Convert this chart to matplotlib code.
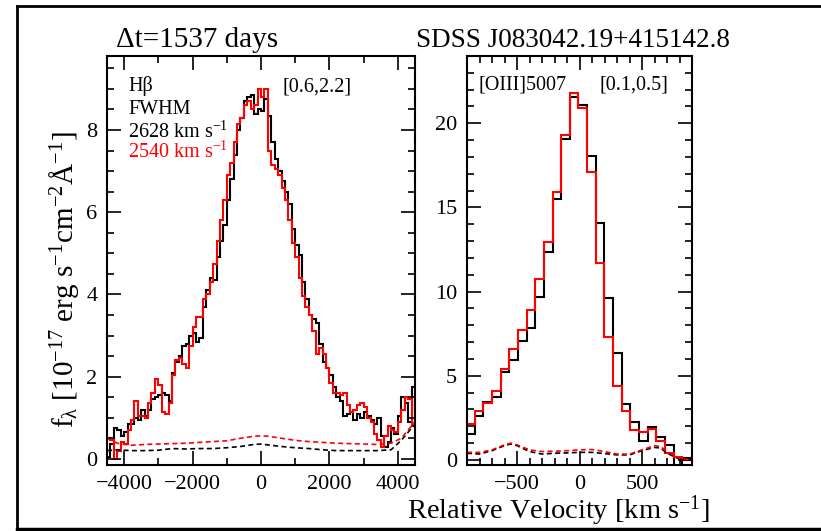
import numpy as np
import matplotlib
matplotlib.use('Agg')
import matplotlib.pyplot as plt
from matplotlib.lines import Line2D
from matplotlib.ticker import MultipleLocator

plt.rcParams['font.family'] = ['Liberation Serif', 'DejaVu Serif']
plt.rcParams['mathtext.fontset'] = 'custom'
plt.rcParams['mathtext.rm'] = 'Liberation Serif'
plt.rcParams['mathtext.it'] = 'Liberation Serif:italic'
plt.rcParams['mathtext.default'] = 'regular'

# ---- H-beta panel, 100 km/s bins from -4500 to 4500
hb_edges = np.arange(-4500, 4501, 100)
hb_black = [0.05, 0.35, 0.75, 0.7, 0.55, 0.65, 0.85, 0.85, 1.0, 0.95,
            1.2, 1.05, 1.2, 1.45, 1.5, 1.55, 1.6, 1.55, 1.4, 2.1,
            2.35, 2.5, 2.75, 2.8, 3.0, 3.05, 2.85, 2.95, 3.7, 4.1,
            4.4, 4.35, 4.9, 5.3, 5.7, 6.3, 6.8, 7.4, 8.0, 8.3,
            8.7, 8.8, 8.85, 8.4, 8.5, 8.45, 8.75, 8.35, 7.7, 7.3,
            7.0, 6.75, 6.5, 6.2, 5.6, 5.2, 4.95, 4.3, 3.9, 3.5,
            3.4, 3.3, 2.8, 2.35, 2.2, 2.05, 1.75, 1.5, 1.4, 1.05,
            1.1, 1.15, 0.95, 1.1, 1.0, 1.15, 1.05, 0.95, 0.85, 1.0,
            0.55, 0.3, 0.4, 0.75, 0.6, 1.05, 1.5, 1.35, 0.9, 1.75]
hb_red = [0.5, 0.45, 0.0, 0.2, 0.4, 0.35, 0.7, 0.95, 1.4, 1.05,
          1.05, 1.0, 1.35, 1.6, 1.95, 1.8, 1.15, 1.1, 1.35, 2.05,
          2.4, 2.45, 2.3, 2.2, 2.75, 3.2, 3.45, 3.45, 3.9, 4.0,
          4.3, 4.75, 5.3, 5.8, 6.3, 6.9, 7.2, 7.7, 8.15, 8.3,
          8.6, 8.7, 8.5, 8.6, 9.0, 8.8, 9.0, 7.5, 7.15, 7.05,
          6.9, 6.6, 6.3, 5.8, 5.25, 4.9, 4.4, 3.95, 3.7, 3.5,
          3.1, 2.55, 2.7, 2.55, 2.2, 1.85, 1.6, 1.6, 1.55, 1.6,
          1.3, 1.15, 1.2, 1.3, 1.35, 1.25, 1.0, 0.9, 0.6, 0.45,
          0.3, 0.55, 0.8, 0.7, 0.65, 0.9, 1.2, 1.5, 1.45, 0.8]

hb_err_v = [-4500, -4200, -3800, -3400, -3000, -2600, -2200, -1800, -1400, -1000,
            -600, -200, 0, 200, 600, 1000, 1400, 1800, 2200, 2600,
            3000, 3400, 3800, 4100, 4500]
hb_err_red = [0.5, 0.38, 0.33, 0.35, 0.36, 0.37, 0.38, 0.4, 0.42, 0.44,
              0.5, 0.55, 0.56, 0.55, 0.5, 0.45, 0.42, 0.4, 0.38, 0.37,
              0.36, 0.35, 0.38, 0.5, 0.9]
hb_err_black = [0.2, 0.22, 0.2, 0.2, 0.21, 0.25, 0.24, 0.25, 0.25, 0.27,
                0.3, 0.35, 0.36, 0.34, 0.3, 0.27, 0.25, 0.22, 0.2, 0.2,
                0.2, 0.2, 0.22, 0.45, 0.85]

# ---- [OIII] panel, SDSS pixels (~69 km/s)
o3_start = -908
o3_width = 69.2
o3_black = [1.54, 2.61, 3.46, 3.76, 5.21, 5.94, 7.07, 7.82, 9.70, 12.37,
            15.48, 19.06, 21.54, 21.08, 18.05, 14.09, 9.60, 6.33, 3.31, 2.28,
            1.13, 1.98, 1.39, 0.89, -0.5, 0.1]
o3_red = [2.12, 2.91, 3.40, 4.10, 5.38, 6.57, 7.72, 8.91, 10.75, 12.96,
          15.93, 19.30, 21.78, 20.92, 17.08, 11.68, 7.32, 4.41, 2.91, 1.78,
          1.68, 1.85, 1.15, 0.40, 0.2, 0.0]
o3_edges = o3_start + o3_width * np.arange(len(o3_black) + 1)

o3_err_v = [-900, -800, -700, -600, -550, -500, -400, -300, -200, -100,
            0, 100, 200, 300, 400, 500, 600, 650, 700, 800, 900]
o3_err_red = [0.45, 0.45, 0.6, 0.9, 1.0, 0.9, 0.6, 0.5, 0.52, 0.55,
              0.6, 0.62, 0.5, 0.35, 0.35, 0.6, 0.85, 0.8, 0.5, 0.1, 0.0]
o3_err_black = [0.4, 0.35, 0.55, 0.85, 0.95, 0.85, 0.5, 0.35, 0.4, 0.42,
                0.45, 0.45, 0.38, 0.3, 0.3, 0.55, 0.75, 0.7, 0.4, 0.05, 0.0]

W, H = 821, 531
fig = plt.figure(figsize=(W / 100, H / 100), dpi=100)

def px_axes(x0, y0, x1, y1):
    return fig.add_axes([x0 / W, 1 - y1 / H, (x1 - x0) / W, (y1 - y0) / H])

ax1 = px_axes(107, 56, 415, 465)
ax2 = px_axes(467, 56, 692, 465)

dash = (0, (3, 2))
ax1.stairs(hb_black, hb_edges, baseline=None, color='black', lw=1.5)
ax1.stairs(hb_red, hb_edges, baseline=None, color='red', lw=1.5)
ax1.plot(hb_err_v, hb_err_black, color='black', lw=1.2, ls=dash)
ax1.plot(hb_err_v, hb_err_red, color='red', lw=1.2, ls=dash)
ax1.set_xlim(-4500, 4500)
ax1.set_ylim(-0.15, 9.8)
ax1.xaxis.set_major_locator(MultipleLocator(2000))
ax1.xaxis.set_minor_locator(MultipleLocator(1000))
ax1.yaxis.set_major_locator(MultipleLocator(2))
ax1.yaxis.set_minor_locator(MultipleLocator(0.5))

ax2.stairs(o3_black, o3_edges, baseline=None, color='black', lw=1.5)
ax2.stairs(o3_red, o3_edges, baseline=None, color='red', lw=1.5)
ax2.plot(o3_err_v, o3_err_black, color='black', lw=1.2, ls=dash)
ax2.plot(o3_err_v, o3_err_red, color='red', lw=1.2, ls=dash)
ax2.set_xlim(-900, 900)
ax2.set_ylim(-0.3, 24)
ax2.xaxis.set_major_locator(MultipleLocator(500))
ax2.xaxis.set_minor_locator(MultipleLocator(100))
ax2.yaxis.set_major_locator(MultipleLocator(5))
ax2.yaxis.set_minor_locator(MultipleLocator(1))

for ax in (ax1, ax2):
    for s in ax.spines.values():
        s.set_linewidth(1.5)
    ax.tick_params(which='both', direction='in', top=True, right=True,
                   width=1.2, labelsize=16)
    ax.tick_params(axis='x', pad=7)
    ax.tick_params(axis='y', pad=7)
    ax.tick_params(which='major', length=10)
    ax.tick_params(which='minor', length=5)

tk = dict(fontsize=14.5, va='center', ha='left')
ax1.text(0.068, 0.927, 'Hβ', transform=ax1.transAxes, **tk)
ax1.text(0.571, 0.924, '[0.6,2.2]', transform=ax1.transAxes, **tk)
ax1.text(0.068, 0.868, 'FWHM', transform=ax1.transAxes, **tk)
ax1.text(0.068, 0.814, r'2628 km s$^{-1}$', transform=ax1.transAxes, **tk)
ax1.text(0.068, 0.765, r'2540 km s$^{-1}$', transform=ax1.transAxes,
         color='red', **tk)
ax2.text(0.049, 0.929, '[OIII]5007', transform=ax2.transAxes, **tk)
ax2.text(0.591, 0.929, '[0.1,0.5]', transform=ax2.transAxes, **tk)

fig.text(116 / W, 1 - 47 / H, 'Δt=1537 days', fontsize=21, ha='left', va='baseline')
fig.text(416 / W, 1 - 47 / H, 'SDSS J083042.19+415142.8', fontsize=19.5,
         ha='left', va='baseline')
fig.text(558 / W, 1 - 519 / H, r'Relative Velocity [km s$^{-1}$]', fontsize=20.5,
         ha='center', va='baseline')
fig.text(64 / W, 1 - 280 / H,
         r'f$_{λ}$ [10$^{-17}$ erg s$^{-1}$cm$^{-2}$Å$^{-1}$]',
         fontsize=21, rotation=90, ha='center', va='center')

# outer frame
fig.add_artist(Line2D([17 / W, 1.0], [1 - 6 / H, 1 - 6 / H], transform=fig.transFigure,
                      color='black', lw=2))
fig.add_artist(Line2D([17 / W, 17 / W], [1 - 6 / H, 1 - 529 / H], transform=fig.transFigure,
                      color='black', lw=2))
fig.add_artist(Line2D([17 / W, 1.0], [1 - 529 / H, 1 - 529 / H], transform=fig.transFigure,
                      color='black', lw=2.5))

fig.savefig('out.png', dpi=100)
